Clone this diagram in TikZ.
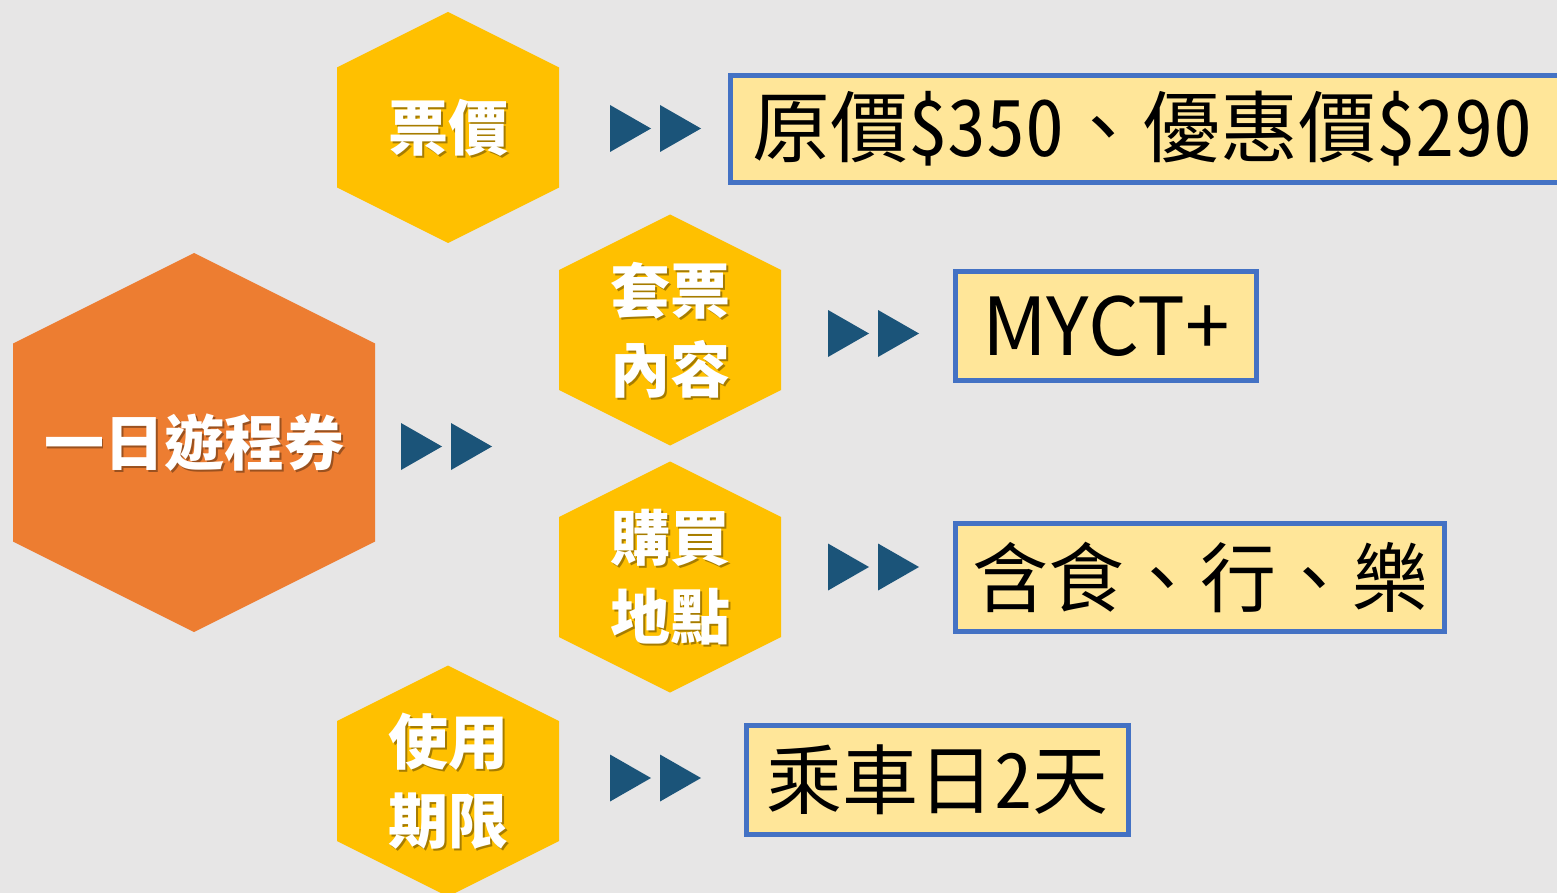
\documentclass[tikz,border=0pt]{standalone}
\usepackage{fontspec}
\newfontfamily\hexfont{Noto Sans CJK TC}
\newfontfamily\valfont{Noto Sans CJK TC}[RawFeature=+hwid]
\newfontfamily\latinfont{Noto Sans CJK TC}
\definecolor{bgray}{HTML}{E7E6E6}
\definecolor{hexorange}{HTML}{ED7D31}
\definecolor{hexyellow}{HTML}{FFC000}
\definecolor{fwdblue}{HTML}{1B5479}
\definecolor{valfill}{HTML}{FFE699}
\definecolor{valline}{HTML}{4472C4}
\newcommand{\hexa}[5]{\fill[#5] ({#1-#3},{#2-#4+#3/2}) -- ({#1},{#2-#4}) -- ({#1+#3},{#2-#4+#3/2}) -- ({#1+#3},{#2+#4-#3/2}) -- ({#1},{#2+#4}) -- ({#1-#3},{#2+#4-#3/2}) -- cycle;}
\newcommand{\fwd}[2]{\fill[fwdblue] (#1,{#2-23.5}) -- ({#1+41},#2) -- (#1,{#2+23.5}) -- cycle;
\fill[fwdblue] ({#1+50},{#2-23.5}) -- ({#1+91},#2) -- ({#1+50},{#2+23.5}) -- cycle;}

\begin{document}
\begin{tikzpicture}[x=0.5pt,y=-0.5pt,
  hextext/.style={font=\hexfont\bfseries\fontsize{30}{39.5}\selectfont,text=white,align=center,inner sep=0pt},
  hexshade/.style={hextext,text=black,text opacity=0.35},
  valbox/.style={draw=valline,line width=2.5pt,fill=valfill,inner sep=0pt,font=\valfont\fontsize{38}{44}\selectfont}]
\useasboundingbox (0,0) rectangle (1557,893);
\fill[bgray] (0,0) rectangle (1557,893);

\hexa{194}{442.5}{181}{189.5}{hexorange}
\hexa{448}{127.5}{111}{115.5}{hexyellow}
\hexa{670}{330}{111}{115.5}{hexyellow}
\hexa{670}{577}{111}{115.5}{hexyellow}
\hexa{448}{781}{111}{115.5}{hexyellow}

\node[hexshade] (pass-s) at (196,444.5) {一日遊程券};
\node[hextext] (pass) at (194,442.5) {一日遊程券};
\node[hexshade] (price-s) at (450,129.5) {票價};
\node[hextext] (price) at (448,127.5) {票價};
\node[hexshade] (content-s) at (672,332) {套票\\內容};
\node[hextext] (content) at (670,330) {套票\\內容};
\node[hexshade] (place-s) at (672,579) {購買\\地點};
\node[hextext] (place) at (670,577) {購買\\地點};
\node[hexshade] (period-s) at (450,783) {使用\\期限};
\node[hextext] (period) at (448,781) {使用\\期限};

\fwd{401}{446.5}
\fwd{610}{128.5}
\fwd{828}{333.5}
\fwd{828}{567}
\fwd{610}{778}

\node[valbox,anchor=west,minimum height=53.5pt,text width=398pt,inner xsep=11pt,align=left,font=\valfont\fontsize{39}{44}\selectfont] (priceval) at (727.5,129) {原價\$350、優惠價\$290};
\node[valbox,minimum width=150.5pt,minimum height=54.5pt,font=\latinfont\fontsize{40}{44}\selectfont] (contentval) at (1106,326) {MYCT+};
\node[valbox,minimum width=244.5pt,minimum height=54pt] (placeval) at (1200,577.5) {含食、行、樂};
\node[valbox,minimum width=191pt,minimum height=54.5pt] (periodval) at (937.5,780) {乘車日2天};
\end{tikzpicture}
\end{document}
